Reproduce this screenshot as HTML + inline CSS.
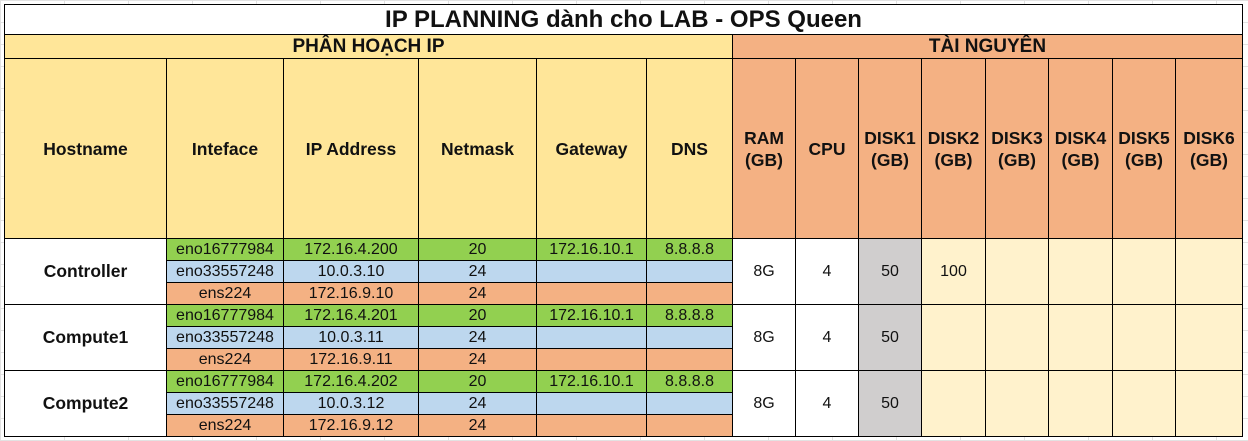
<!DOCTYPE html>
<html><head><meta charset="utf-8"><style>
body{margin:0;width:1248px;height:441px;background:#fff;position:relative;overflow:hidden;font-family:"Liberation Sans","DejaVu Sans",sans-serif;}
.grid{position:absolute;left:0;top:0;width:1248px;height:441px;
background-image:linear-gradient(to right,#e2e2e2 1px,transparent 1px),linear-gradient(to bottom,#e2e2e2 1px,transparent 1px);
background-size:64px 22px;}
table{position:absolute;left:4px;top:4px;border-collapse:collapse;table-layout:fixed;}
td{border:1px solid #000;padding:0;text-align:center;vertical-align:middle;font-size:16px;color:#111;overflow:hidden;white-space:nowrap;}
.b{font-weight:bold;}
.t{font-size:24px;font-weight:bold;height:29px;background:#fff;}
.s{font-size:19px;font-weight:bold;height:23px;}
.y{background:#ffe699;} .o{background:#f4b183;} .g{background:#92d050;} .l{background:#bdd7ee;}
.gr{background:#d0cece;} .ly{background:#fff2cc;} .w{background:#fff;}
.h td{height:179px;font-weight:bold;font-size:17.5px;line-height:22px;}
.r td{height:21px;}
.hn{font-size:17.5px;}
</style></head><body>
<div class="grid"></div>
<table>
<colgroup><col style="width:162px"><col style="width:117px"><col style="width:135px"><col style="width:118px"><col style="width:110px"><col style="width:86px"><col style="width:63px"><col style="width:63px"><col style="width:63px"><col style="width:64px"><col style="width:63px"><col style="width:64px"><col style="width:63px"><col style="width:67px"></colgroup>
<tr><td colspan="14" class="t">IP PLANNING dành cho LAB - OPS Queen</td></tr>
<tr><td colspan="6" class="s y">PHÂN HOẠCH IP</td><td colspan="8" class="s o">TÀI NGUYÊN</td></tr>
<tr class="h">
<td class="y">Hostname</td>
<td class="y">Inteface</td>
<td class="y">IP Address</td>
<td class="y">Netmask</td>
<td class="y">Gateway</td>
<td class="y">DNS</td>
<td class="o">RAM<br>(GB)</td>
<td class="o">CPU</td>
<td class="o">DISK1<br>(GB)</td>
<td class="o">DISK2<br>(GB)</td>
<td class="o">DISK3<br>(GB)</td>
<td class="o">DISK4<br>(GB)</td>
<td class="o">DISK5<br>(GB)</td>
<td class="o">DISK6<br>(GB)</td>
</tr>

<tr class="r"><td rowspan="3" class="b w hn">Controller</td>
<td class="g">eno16777984</td><td class="g">172.16.4.200</td><td class="g">20</td><td class="g">172.16.10.1</td><td class="g">8.8.8.8</td>
<td rowspan="3" class="w">8G</td><td rowspan="3" class="w">4</td><td rowspan="3" class="gr">50</td><td rowspan="3" class="ly">100</td><td rowspan="3" class="ly"></td><td rowspan="3" class="ly"></td><td rowspan="3" class="ly"></td><td rowspan="3" class="ly"></td></tr>
<tr class="r"><td class="l">eno33557248</td><td class="l">10.0.3.10</td><td class="l">24</td><td class="l"></td><td class="l"></td></tr>
<tr class="r"><td class="o">ens224</td><td class="o">172.16.9.10</td><td class="o">24</td><td class="o"></td><td class="o"></td></tr>

<tr class="r"><td rowspan="3" class="b w hn">Compute1</td>
<td class="g">eno16777984</td><td class="g">172.16.4.201</td><td class="g">20</td><td class="g">172.16.10.1</td><td class="g">8.8.8.8</td>
<td rowspan="3" class="w">8G</td><td rowspan="3" class="w">4</td><td rowspan="3" class="gr">50</td><td rowspan="3" class="ly"></td><td rowspan="3" class="ly"></td><td rowspan="3" class="ly"></td><td rowspan="3" class="ly"></td><td rowspan="3" class="ly"></td></tr>
<tr class="r"><td class="l">eno33557248</td><td class="l">10.0.3.11</td><td class="l">24</td><td class="l"></td><td class="l"></td></tr>
<tr class="r"><td class="o">ens224</td><td class="o">172.16.9.11</td><td class="o">24</td><td class="o"></td><td class="o"></td></tr>

<tr class="r"><td rowspan="3" class="b w hn">Compute2</td>
<td class="g">eno16777984</td><td class="g">172.16.4.202</td><td class="g">20</td><td class="g">172.16.10.1</td><td class="g">8.8.8.8</td>
<td rowspan="3" class="w">8G</td><td rowspan="3" class="w">4</td><td rowspan="3" class="gr">50</td><td rowspan="3" class="ly"></td><td rowspan="3" class="ly"></td><td rowspan="3" class="ly"></td><td rowspan="3" class="ly"></td><td rowspan="3" class="ly"></td></tr>
<tr class="r"><td class="l">eno33557248</td><td class="l">10.0.3.12</td><td class="l">24</td><td class="l"></td><td class="l"></td></tr>
<tr class="r"><td class="o">ens224</td><td class="o">172.16.9.12</td><td class="o">24</td><td class="o"></td><td class="o"></td></tr>
</table>
</body></html>
